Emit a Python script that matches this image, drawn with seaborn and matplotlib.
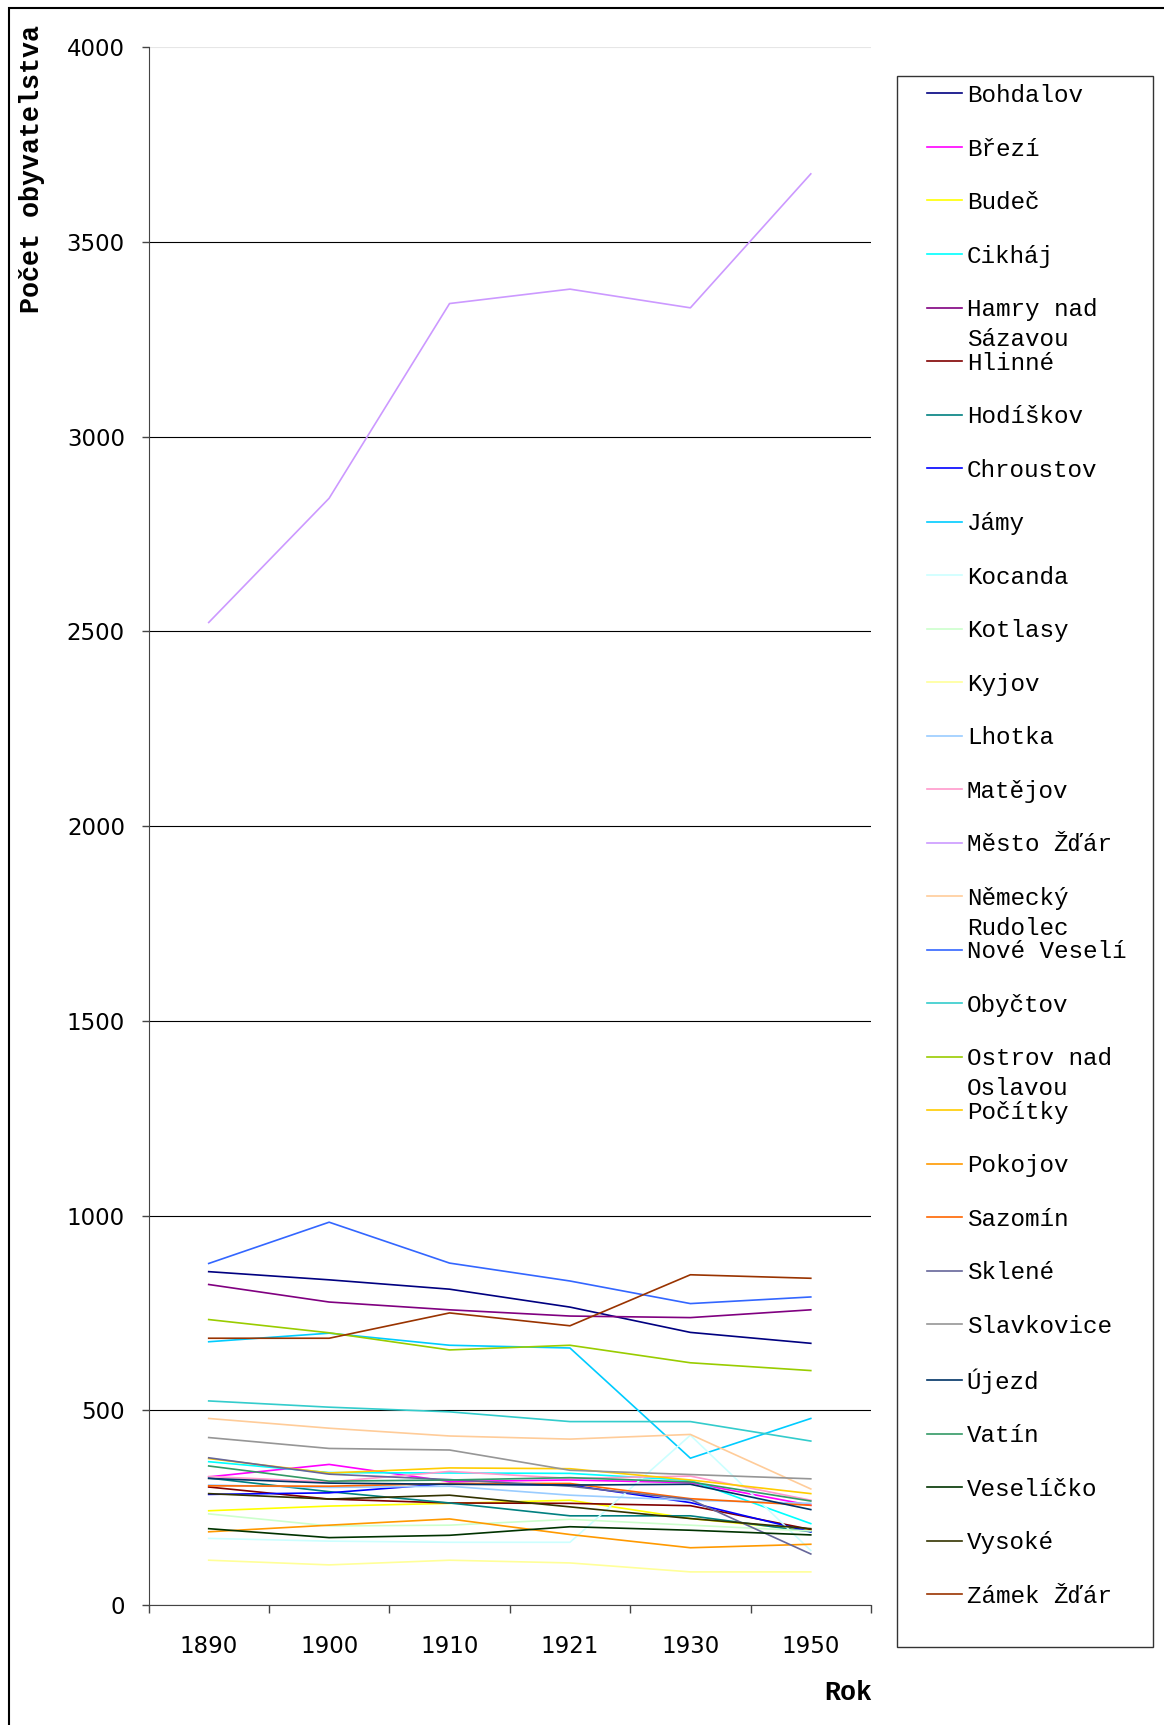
import numpy as np
import pandas as pd
import matplotlib
matplotlib.use("Agg")
import matplotlib.pyplot as plt
import seaborn as sns
from matplotlib.lines import Line2D
from matplotlib.patches import Rectangle

# roky (kategorie na ose x)
roky = ["1890", "1900", "1910", "1921", "1930", "1950"]

# pocet obyvatel v jednotlivych obcich
bohdalov = [856, 835, 811, 765, 700, 672]
brezi = [329, 361, 317, 321, 314, 256]
budec = [242, 254, 261, 269, 222, 192]
cikhaj = [368, 340, 339, 338, 320, 209]
hamry = [823, 778, 758, 742, 738, 758]
hlinne = [303, 272, 262, 261, 255, 194]
hodiskov = [326, 291, 262, 229, 229, 188]
chroustov = [284, 288, 312, 308, 263, 188]
jamy = [676, 698, 667, 660, 377, 479]
kocanda = [171, 164, 161, 161, 436, 140]
kotlasy = [234, 203, 205, 220, 205, 190]
kyjov = [115, 103, 115, 108, 85, 85]
lhotka = [308, 302, 305, 282, 269, 261]
matejov = [330, 316, 343, 325, 331, 269]
mesto_zdar = [2523, 2842, 3342, 3379, 3331, 3675]
nem_rudolec = [479, 454, 434, 426, 438, 298]
nove_veseli = [877, 983, 878, 832, 774, 791]
obyctov = [524, 508, 496, 471, 471, 421]
ostrov = [733, 699, 655, 667, 622, 602]
pocitky = [376, 339, 352, 350, 321, 286]
pokojov = [188, 205, 221, 181, 147, 156]
sazomin = [306, 305, 312, 312, 273, 256]
sklene = [378, 336, 322, 305, 271, 131]
slavkovice = [430, 402, 398, 346, 335, 324]
ujezd = [325, 313, 310, 308, 310, 245]
vatin = [357, 318, 321, 327, 316, 267]
veselicko = [196, 173, 179, 201, 192, 180]
vysoke = [286, 272, 282, 252, 222, 196]
zamek_zdar = [685, 685, 750, 717, 848, 839]

obce = ["Bohdalov", "Březí", "Budeč", "Cikháj", "Hamry nad Sázavou", "Hlinné",
        "Hodíškov", "Chroustov", "Jámy", "Kocanda", "Kotlasy", "Kyjov", "Lhotka",
        "Matějov", "Město Žďár", "Německý Rudolec", "Nové Veselí", "Obyčtov",
        "Ostrov nad Oslavou", "Počítky", "Pokojov", "Sazomín", "Sklené",
        "Slavkovice", "Újezd", "Vatín", "Veselíčko", "Vysoké", "Zámek Žďár"]
hodnoty = [bohdalov, brezi, budec, cikhaj, hamry, hlinne, hodiskov, chroustov, jamy,
           kocanda, kotlasy, kyjov, lhotka, matejov, mesto_zdar, nem_rudolec,
           nove_veseli, obyctov, ostrov, pocitky, pokojov, sazomin, sklene,
           slavkovice, ujezd, vatin, veselicko, vysoke, zamek_zdar]
# excel 2003 barvy
barvy = ["#000080", "#FF00FF", "#FFFF00", "#00FFFF", "#800080", "#800000",
         "#008080", "#0000FF", "#00CCFF", "#CCFFFF", "#CCFFCC", "#FFFF99",
         "#99CCFF", "#FF99CC", "#CC99FF", "#FFCC99", "#3366FF", "#33CCCC",
         "#99CC00", "#FFCC00", "#FF9900", "#FF6600", "#666699", "#969696",
         "#003366", "#339966", "#003300", "#333300", "#993300"]
# v legende zalomene nazvy
legenda = ["Bohdalov", "Březí", "Budeč", "Cikháj", "Hamry nad\nSázavou", "Hlinné",
           "Hodíškov", "Chroustov", "Jámy", "Kocanda", "Kotlasy", "Kyjov", "Lhotka",
           "Matějov", "Město Žďár", "Německý\nRudolec", "Nové Veselí", "Obyčtov",
           "Ostrov nad\nOslavou", "Počítky", "Pokojov", "Sazomín", "Sklené",
           "Slavkovice", "Újezd", "Vatín", "Veselíčko", "Vysoké", "Zámek Žďár"]

rows = []
for obec, vals in zip(obce, hodnoty):
    for rok, v in zip(roky, vals):
        rows.append({"Obec": obec, "Rok": rok, "Pocet": v})
df = pd.DataFrame(rows)
paleta = dict(zip(obce, barvy))

W, H = 1164, 1725
fig = plt.figure(figsize=(W / 100, H / 100), dpi=100)
ax = fig.add_axes([148.5 / W, 1 - 1605 / H, (871 - 148.5) / W, (1605 - 47.3) / H])

sns.lineplot(data=df, x="Rok", y="Pocet", hue="Obec", hue_order=obce, palette=paleta,
             linewidth=1.2, legend=False, ax=ax, sort=False)

ax.set_xlim(-0.5, 5.5)
ax.set_ylim(0, 4000)
ax.set_yticks(np.arange(0, 4001, 500))
ax.set_xticks(range(len(roky)))
ax.set_xticklabels(roky)
ax.set_xticks(np.arange(-0.5, 6, 1), minor=True)
ax.tick_params(axis="x", which="major", length=0, pad=21.5, labelsize=16.5)
ax.tick_params(axis="x", which="minor", length=6, width=1, color="#444444", direction="out")
ax.tick_params(axis="y", length=5, width=1, color="#444444", pad=12, labelsize=16.5)
ax.set_xlabel("")
ax.set_ylabel("")
ax.yaxis.grid(True, color="black", linewidth=0.8)
ax.set_axisbelow(True)
ax.get_ygridlines()[-1].set_color("#e6e6e6")
for s in ["top", "right"]:
    ax.spines[s].set_visible(False)
ax.spines["left"].set_color("#444444")
ax.spines["bottom"].set_color("#444444")

mono = "Liberation Mono"
fig.text(32 / W, 1 - 25 / H, "Počet obyvatelstva", rotation=90, ha="center", va="top",
         family=mono, fontweight="bold", fontsize=19.2)
fig.text(872 / W, 1 - 1693 / H, "Rok", ha="right", va="center",
         family=mono, fontweight="bold", fontsize=19.2)

# ramecek celeho grafu
fig.patches.append(Rectangle((9 / W, -0.1), 2, 1.1 - 8 / H, transform=fig.transFigure,
                             fill=False, edgecolor="black", linewidth=1.5))
# ramecek legendy
fig.patches.append(Rectangle((897 / W, 1 - 1647 / H), 256 / W, (1647 - 76) / H,
                             transform=fig.transFigure, fill=False,
                             edgecolor="#333333", linewidth=1))

handles = [Line2D([], [], color=c, linewidth=1.2) for c in barvy]
prvni = [l.split("\n")[0] for l in legenda]
leg = fig.legend(handles, prvni, loc="upper left", bbox_to_anchor=(927 / W, 1 - 84 / H),
                 frameon=False, borderpad=0, borderaxespad=0, handlelength=1.44,
                 handletextpad=0.2, labelspacing=1.255, prop={"family": mono, "size": 17.5})

fig.canvas.draw()
r = fig.canvas.get_renderer()
for t, lab in zip(leg.get_texts(), legenda):
    if "\n" in lab:
        bb = t.get_window_extent(r)
        fig.text(bb.x0 / W, (bb.y0 - 30) / H, lab.split("\n")[1], ha="left", va="bottom",
                 family=mono, fontsize=17.5)

fig.savefig("out.png", dpi=100)
